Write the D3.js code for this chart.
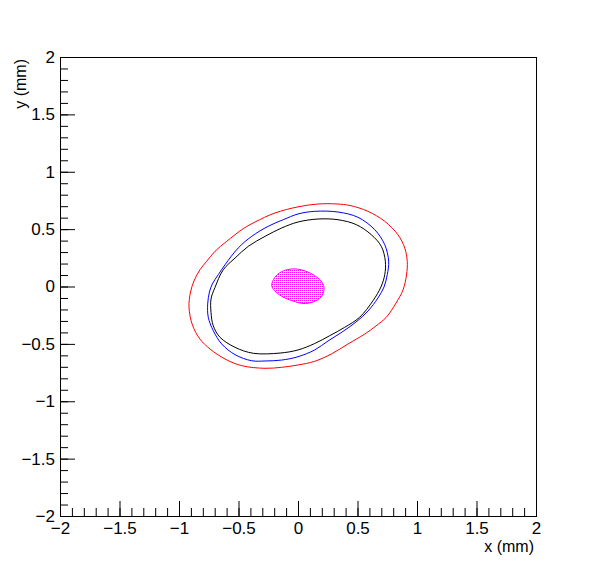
<!DOCTYPE html>
<html>
<head>
<meta charset="utf-8">
<script src="https://cdn.jsdelivr.net/npm/d3@7"></script>
<style>
  body { margin: 0; background: #fff; }
  text { font-family: "Liberation Sans", Arial, sans-serif; }
</style>
</head>
<body>
<svg id="chart" width="596" height="572"></svg>
<script>
// contour points, in mm
const redContour = [
  [-0.916, -0.179], [-0.903, -0.048], [-0.874, 0.048], [-0.824, 0.146], [-0.767, 0.220],
  [-0.697, 0.307], [-0.599, 0.394], [-0.460, 0.504], [-0.361, 0.562], [-0.193, 0.641],
  [0.000, 0.694], [0.168, 0.719], [0.328, 0.719], [0.437, 0.706], [0.588, 0.655],
  [0.729, 0.568], [0.840, 0.451], [0.897, 0.336], [0.918, 0.220], [0.912, 0.100],
  [0.882, -0.031], [0.824, -0.144], [0.742, -0.268], [0.655, -0.344], [0.561, -0.414],
  [0.420, -0.501], [0.280, -0.588], [0.140, -0.652], [0.000, -0.684], [-0.137, -0.704],
  [-0.277, -0.713], [-0.473, -0.690], [-0.613, -0.632], [-0.739, -0.545], [-0.824, -0.458],
  [-0.887, -0.336]
]
const blueContour = [
  [-0.759, -0.153], [-0.744, -0.048], [-0.720, 0.022], [-0.670, 0.103], [-0.613, 0.190],
  [-0.502, 0.336], [-0.389, 0.437], [-0.250, 0.525], [-0.124, 0.582], [0.000, 0.632],
  [0.140, 0.655], [0.336, 0.649], [0.504, 0.603], [0.645, 0.495], [0.729, 0.364],
  [0.762, 0.220], [0.750, 0.103], [0.723, -0.004], [0.672, -0.100], [0.588, -0.214],
  [0.487, -0.310], [0.370, -0.397], [0.252, -0.475], [0.140, -0.553], [0.000, -0.612],
  [-0.137, -0.641], [-0.277, -0.649], [-0.389, -0.647], [-0.529, -0.594], [-0.641, -0.501],
  [-0.712, -0.385], [-0.754, -0.268]
]
const blackContour = [
  [-0.731, -0.225], [-0.731, -0.109], [-0.697, -0.007], [-0.628, 0.146], [-0.529, 0.248],
  [-0.418, 0.350], [-0.277, 0.437], [-0.137, 0.510], [0.000, 0.562], [0.168, 0.588],
  [0.336, 0.582], [0.490, 0.539], [0.616, 0.451], [0.700, 0.350], [0.734, 0.220],
  [0.729, 0.103], [0.697, -0.004], [0.630, -0.124], [0.518, -0.268], [0.392, -0.356],
  [0.266, -0.429], [0.140, -0.497], [0.000, -0.553], [-0.151, -0.580], [-0.376, -0.582],
  [-0.529, -0.530], [-0.655, -0.443], [-0.712, -0.342]
]
const beamSpot = [
  [-0.218, 0.031], [-0.185, 0.092], [-0.126, 0.135], [-0.050, 0.153], [0.017, 0.148],
  [0.101, 0.118], [0.168, 0.074], [0.210, 0.022], [0.218, -0.031], [0.193, -0.092],
  [0.126, -0.135], [0.042, -0.148], [-0.042, -0.126], [-0.126, -0.092], [-0.185, -0.048],
  [-0.218, -0.004]
]

const majorTicks = [-2, -1.5, -1, -0.5, 0, 0.5, 1, 1.5, 2]
const tickLabels = ['\u22122', '\u22121.5', '\u22121', '\u22120.5', '0', '0.5', '1', '1.5', '2']
const minorTicks = d3.range(-20, 21).map(i => i / 10)

const svg = d3.select('#chart')
const x = d3.scaleLinear().domain([-2, 2]).range([60, 536])
const y = d3.scaleLinear().domain([-2, 2]).range([516, 57])
const fmt = d => tickLabels[majorTicks.indexOf(d)]

// dotted fill for the beam spot
svg.append('defs')
  .append('pattern')
  .attr('id', 'dots')
  .attr('patternUnits', 'userSpaceOnUse')
  .attr('width', 2)
  .attr('height', 2)
  .append('rect')
  .attr('width', 1)
  .attr('height', 1)
  .attr('fill', '#ff00ff')

const line = d3.line()
  .x(d => x(d[0]))
  .y(d => y(d[1]))
  .curve(d3.curveCatmullRomClosed)

svg.append('path')
  .attr('d', line(beamSpot))
  .attr('fill', 'url(#dots)')
  .attr('stroke', '#ff00ff')
  .attr('stroke-width', 1)

const contours = [
  { pts: redContour, col: '#ff0000' },
  { pts: blueContour, col: '#0000ff' },
  { pts: blackContour, col: '#000000' }
]
contours.forEach(c => {
  svg.append('path')
    .attr('d', line(c.pts))
    .attr('fill', 'none')
    .attr('stroke', c.col)
    .attr('stroke-width', 1)
})

// axes, ticks inside the frame
const xMinor = svg.append('g').attr('transform', 'translate(0,516)')
  .call(d3.axisBottom(x).tickValues(minorTicks).tickSize(-8).tickFormat(''))
const xMajor = svg.append('g').attr('transform', 'translate(0,516)')
  .call(d3.axisBottom(x).tickValues(majorTicks).tickSize(-15).tickPadding(6).tickFormat(fmt))
const yMinor = svg.append('g').attr('transform', 'translate(60,0)')
  .call(d3.axisLeft(y).tickValues(minorTicks).tickSize(-8).tickFormat(''))
const yMajor = svg.append('g').attr('transform', 'translate(60,0)')
  .call(d3.axisLeft(y).tickValues(majorTicks).tickSize(-15).tickPadding(5).tickFormat(fmt))

;[xMinor, xMajor, yMinor, yMajor].forEach(g => {
  g.select('.domain').remove()
  g.selectAll('line').attr('stroke', '#000')
  g.selectAll('text')
    .attr('fill', '#000')
    .attr('font-family', '"Liberation Sans", Arial, sans-serif')
    .attr('font-size', 17)
})
xMajor.attr('font-size', 17)
yMajor.attr('font-size', 17)

svg.append('rect')
  .attr('x', 60.5)
  .attr('y', 57.5)
  .attr('width', 476)
  .attr('height', 459)
  .attr('fill', 'none')
  .attr('stroke', '#000')

svg.append('text')
  .attr('x', 534)
  .attr('y', 552)
  .attr('text-anchor', 'end')
  .style('font-size', '16px')
  .text('x (mm)')

svg.append('text')
  .attr('transform', 'translate(26,59) rotate(-90)')
  .attr('text-anchor', 'end')
  .style('font-size', '16px')
  .text('y (mm)')
</script>
</body>
</html>
